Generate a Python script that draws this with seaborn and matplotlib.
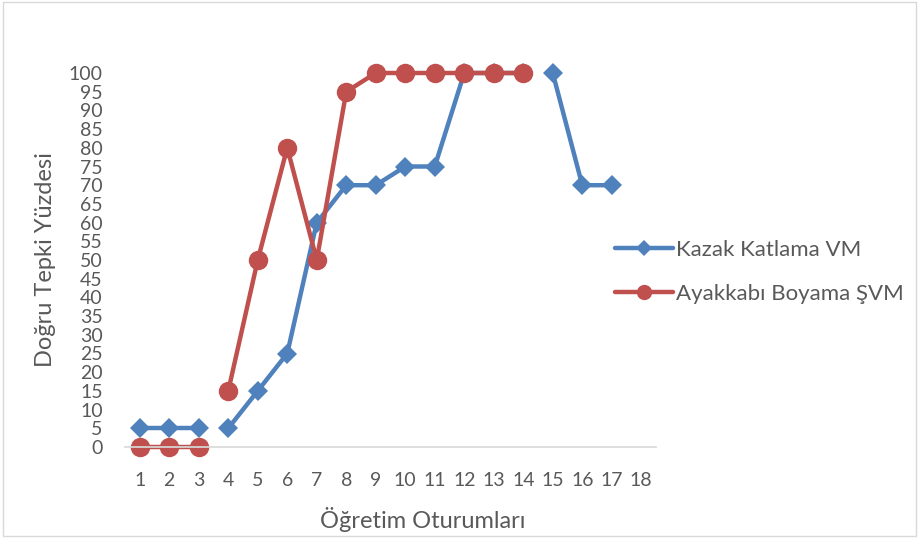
import pandas as pd
import numpy as np
import matplotlib.pyplot as plt
import seaborn as sns
from matplotlib.lines import Line2D

# Data
sessions_blue = [1, 2, 3, 4, 5, 6, 7, 8, 9, 10, 11, 12, 13, 14, 15, 16, 17]
kazak = [5, 5, 5, 5, 15, 25, 60, 70, 70, 75, 75, 100, 100, 100, 100, 70, 70]
segment_blue = [1, 1, 1, 2, 2, 2, 2, 2, 2, 2, 2, 2, 2, 2, 3, 3, 3]

sessions_red = [1, 2, 3, 4, 5, 6, 7, 8, 9, 10, 11, 12, 13, 14]
ayakkabi = [0, 0, 0, 15, 50, 80, 50, 95, 100, 100, 100, 100, 100, 100]
segment_red = [1, 1, 1, 2, 2, 2, 2, 2, 2, 2, 2, 2, 2, 2]

label_blue = 'Kazak Katlama VM'
label_red = 'Ayakkabı Boyama ŞVM'
x_ticks = list(range(1, 19))
y_ticks = list(range(0, 101, 5))

df = pd.concat([
    pd.DataFrame({'Oturum': sessions_blue, 'Yuzde': kazak, 'Seri': label_blue, 'Evre': segment_blue}),
    pd.DataFrame({'Oturum': sessions_red, 'Yuzde': ayakkabi, 'Seri': label_red, 'Evre': segment_red}),
])

sns.set_theme(style="white")
plt.rcParams['font.family'] = ['Lato', 'DejaVu Sans']
text_col = '#595959'

fig = plt.figure(figsize=(9.19, 5.38), dpi=100)
ax = fig.add_axes([125 / 919, 1 - 447 / 538, (656 - 125) / 919, (447 - 73) / 538])

palette = {label_blue: '#4F81BD', label_red: '#C0504D'}
sns.lineplot(data=df, x='Oturum', y='Yuzde', hue='Seri', style='Seri', units='Evre',
             estimator=None, palette=palette, markers={label_blue: 'D', label_red: 'o'},
             dashes=False, linewidth=3.2, ax=ax, legend=False)
for line in ax.lines:
    if line.get_marker() == 'o':
        line.set_markersize(14)
    else:
        line.set_markersize(10)
    line.set_markeredgewidth(0)
    line.set_clip_on(False)

ax.set_xlim(0.5, 18.5)
ax.set_ylim(0, 100)
ax.set_xticks(x_ticks)
ax.set_yticks(y_ticks)
ax.tick_params(axis='both', colors=text_col, labelsize=14, length=0)
ax.tick_params(axis='x', pad=18)
ax.tick_params(axis='y', pad=16)
for s in ['top', 'right', 'left']:
    ax.spines[s].set_visible(False)
ax.spines['bottom'].set_color('#d9d9d9')

ax.set_xlabel('Öğretim Oturumları', fontsize=17, color=text_col)
ax.xaxis.set_label_coords(0.56, -0.16)
ax.set_ylabel('Doğru Tepki Yüzdesi', fontsize=17, color=text_col)
ax.yaxis.set_label_coords(-0.13, 0.5)

# legend
handles = [
    Line2D([], [], color='#4F81BD', lw=3.2, marker='D', markersize=8, markeredgewidth=0),
    Line2D([], [], color='#C0504D', lw=3.2, marker='o', markersize=11, markeredgewidth=0),
]
fig.legend(handles, [label_blue, label_red], loc='center left',
           bbox_to_anchor=(595 / 919, 1 - 272 / 538), frameon=False,
           fontsize=16, labelcolor=text_col, handlelength=2.6, handletextpad=0.15,
           labelspacing=1.1)

fig.patches.append(plt.Rectangle((0.003, 0.003), 0.994, 0.994, transform=fig.transFigure,
                                 fill=False, edgecolor='#d9d9d9', lw=1))

plt.savefig('out.png', dpi=100)
